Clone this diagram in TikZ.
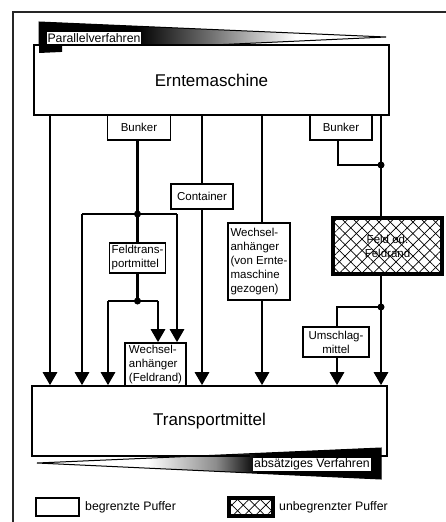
\documentclass[tikz,border=0pt]{standalone}
\usepackage{fontspec}
\setmainfont{Liberation Sans}
\usetikzlibrary{arrows.meta,patterns.meta}
\pgfdeclarehorizontalshading{wedgetop}{100bp}{color(0bp)=(black); color(39bp)=(black); color(50bp)=(black!55); color(62bp)=(white); color(100bp)=(white)}
\pgfdeclarehorizontalshading{wedgebot}{100bp}{color(0bp)=(white); color(41bp)=(white); color(51bp)=(black!45); color(57bp)=(black); color(100bp)=(black)}
\begin{document}
\begin{tikzpicture}[x=1pt,y=-1pt,
  box/.style={draw, line width=1.6pt, fill=white, inner sep=2pt, font=\fontsize{11.5}{14}\selectfont, align=left},
  bigbox/.style={draw, line width=1.6pt, fill=white, font=\fontsize{17}{20}\selectfont},
  hatchbox/.style={draw, line width=3.2pt, fill=white,
    postaction={pattern={Lines[angle=45,distance=8pt,line width=0.7pt]}},
    postaction={pattern={Lines[angle=-45,distance=8pt,line width=0.7pt]}}},
  conn/.style={line width=2.8pt},
  arr/.style={conn, -{Triangle[width=14pt,length=13pt]}},
  dot/.style={circle, fill=black, inner sep=0pt, minimum size=7pt},
  lbl/.style={fill=white, inner sep=1pt, font=\fontsize{12.3}{14}\selectfont},
  legtxt/.style={anchor=west, inner sep=2pt, font=\fontsize{12.3}{14}\selectfont},
]
\useasboundingbox (0,0) rectangle (446,522);

% frame
\draw[line width=1.4pt, black!85] (13,522) -- (13,12) -- (446,12);

% top wedge
\shade[shading=wedgetop] (39,22) -- (386,37) -- (39,53) -- cycle;
\draw[line width=1pt] (39,22) -- (386,37) -- (39,53) -- cycle;

\node[bigbox, minimum width=355pt, minimum height=70pt] (erm) at (211.5,80) {Erntemaschine};

\begin{scope}
  \clip (30,44) rectangle (62,56);
  \fill (39,22) -- (386,37) -- (39,53) -- cycle;
\end{scope}
\node[lbl] (pv) at (94,38) {Parallelverfahren};

% bottom box and wedge
\node[bigbox, minimum width=355pt, minimum height=70pt] (tm) at (209.5,421) {Transportmittel};
\shade[shading=wedgebot] (37,463) -- (381,448) -- (381,479) -- cycle;
\draw[line width=1pt] (37,463) -- (381,448) -- (381,479) -- cycle;
\draw[line width=1.6pt] (32,456) -- (250,456);
\node[lbl] (av) at (312,464.5) {absätziges Verfahren};

% small boxes
\node[box, minimum width=63pt, minimum height=25pt, align=center] (b1) at (139,127.5) {Bunker};
\node[box, minimum width=62pt, minimum height=25pt, align=center] (b2) at (341,127.5) {Bunker};
\node[box, minimum width=62pt, minimum height=25pt, align=center] (cont) at (202,196.5) {Container};
\node[box, minimum width=55pt, minimum height=30pt] (ft) at (137.5,258) {Feldtrans-\\portmittel};
\node[box, minimum width=61pt, minimum height=43pt, inner ysep=0.5pt] (wf) at (155.5,364.5) {Wechsel-\\anhänger\\(Feldrand)};
\node[box, minimum width=62pt, minimum height=77pt] (we) at (259,261.5) {Wechsel-\\anhänger\\(von Ernte-\\maschine\\gezogen)};
\node[box, hatchbox, minimum width=109pt, minimum height=56pt, align=center] (feld) at (387.5,246) {Feld od.\\Feldrand};
\node[box, minimum width=66pt, minimum height=30pt, align=center] (um) at (336,342) {Umschlag-\\mittel};

% column coordinates
\coordinate (c50) at (50,0);
\coordinate (c262) at (262,0);
\coordinate (c338) at (338,0);
\coordinate (c337) at (337,0);
\coordinate (j1) at (137.5,214);
\coordinate (j1l) at (82,214);
\coordinate (j1r) at (177,214);
\coordinate (j2) at (137.5,301);
\coordinate (j2l) at (108,301);
\coordinate (j2r) at (158,301);
\coordinate (j3) at (381,165);
\coordinate (j4) at (381,307);

% connectors
\draw[arr] (erm.south -| c50) -- (tm.north -| c50);

\draw[conn] (b1.south -| j1) -- (ft.north -| j1);
\draw[conn] (j1l) -- (j1r);
\draw[arr] (j1l) -- (tm.north -| j1l);
\draw[arr] (j1r) -- (wf.north -| j1r);

\draw[conn] (ft.south -| j2) -- (j2);
\draw[conn] (j2l) -- (j2r);
\draw[arr] (j2l) -- (tm.north -| j2l);
\draw[arr] (j2r) -- (wf.north -| j2r);

\draw[conn] (erm.south -| cont.north) -- (cont.north);
\draw[arr] (cont.south) -- (tm.north -| cont.south);

\draw[conn] (erm.south -| c262) -- (we.north -| c262);
\draw[arr] (we.south -| c262) -- (tm.north -| c262);

\draw[conn] (b2.south -| c338) |- (j3);
\draw[conn] (erm.south -| j3) -- (feld.north -| j3);
\draw[arr] (feld.south -| j3) -- (tm.north -| j3);
\draw[conn] (j4) -| (um.north -| c337);
\draw[arr] (um.south -| c337) -- (tm.north -| c337);

\node[dot] (d1) at (j1) {};
\node[dot] (d2) at (j2) {};
\node[dot] (d3) at (j3) {};
\node[dot] (d4) at (j4) {};

% legend
\node[box, minimum width=43pt, minimum height=18pt] (lg1) at (57.5,507) {};
\node[legtxt] (lg1t) at (83,507) {begrenzte Puffer};
\node[hatchbox, minimum width=44pt, minimum height=18pt] (lg2) at (251,507) {};
\node[legtxt] (lg2t) at (277,507) {unbegrenzter Puffer};
\end{tikzpicture}
\end{document}
